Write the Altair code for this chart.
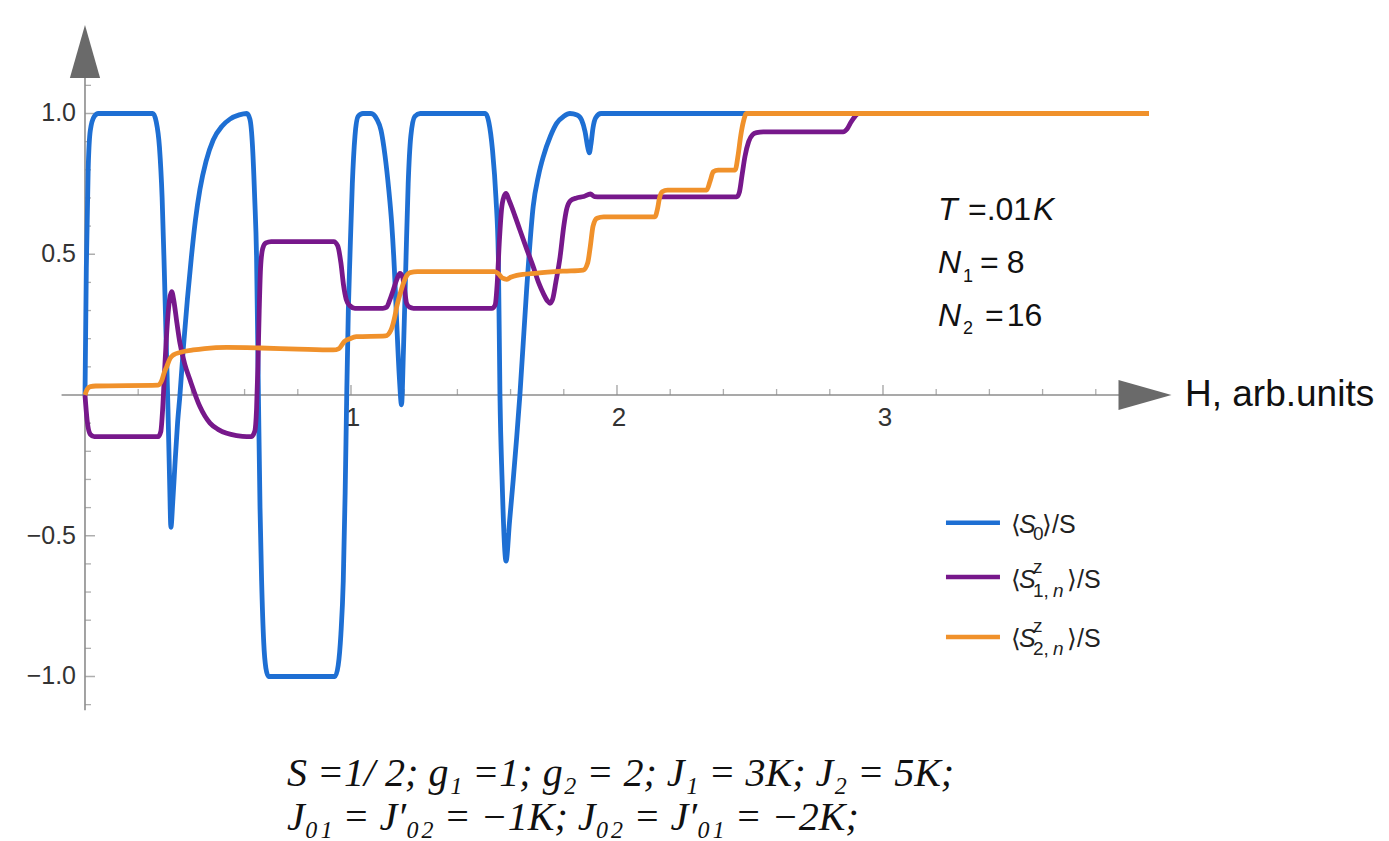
import altair as alt
import pandas as pd

# ---------------- data ----------------
# <S0>/S  (blue)
h_s0 = [0.0, 0.005, 0.012, 0.02, 0.035, 0.05,
        0.255, 0.268, 0.28, 0.29, 0.298, 0.305, 0.312, 0.318, 0.323, 0.33, 0.338, 0.348, 0.357,
        0.37, 0.385, 0.40, 0.415, 0.432, 0.455, 0.482, 0.515, 0.545, 0.58, 0.608,
        0.62, 0.63, 0.638, 0.645, 0.652, 0.658, 0.664, 0.672, 0.68, 0.69,
        0.94, 0.952, 0.962, 0.971, 0.978, 0.984, 0.99, 0.996, 1.005, 1.015, 1.027, 1.045, 1.075,
        1.097, 1.113, 1.128, 1.142, 1.153, 1.163, 1.172, 1.182, 1.19, 1.197, 1.203, 1.207, 1.215,
        1.225, 1.24, 1.26,
        1.505, 1.518, 1.532, 1.545, 1.554, 1.56, 1.568, 1.583, 1.596, 1.61, 1.623, 1.635, 1.66,
        1.685, 1.705, 1.723, 1.75, 1.773, 1.80, 1.823, 1.85, 1.867, 1.88, 1.89, 1.896, 1.902,
        1.91, 1.92, 1.94, 4.0]
v_s0 = [0.0, 0.45, 0.8, 0.94, 0.99, 1.0,
        1.0, 0.97, 0.88, 0.7, 0.45, 0.2, -0.05, -0.3, -0.47, -0.38, -0.25, -0.1, 0.0,
        0.17, 0.34, 0.49, 0.62, 0.73, 0.83, 0.906, 0.955, 0.98, 0.995, 1.0,
        0.98, 0.88, 0.7, 0.49, 0.0, -0.4, -0.66, -0.88, -0.97, -1.0,
        -1.0, -0.96, -0.85, -0.66, -0.35, 0.0, 0.3, 0.49, 0.75, 0.92, 0.99, 1.0, 1.0,
        0.98, 0.94, 0.85, 0.73, 0.61, 0.45, 0.255, 0.06, -0.035, 0.15, 0.35, 0.49, 0.75,
        0.92, 0.99, 1.0,
        1.0, 0.97, 0.87, 0.7, 0.49, 0.0, -0.3, -0.59, -0.45, -0.3, -0.15, 0.0, 0.37,
        0.67, 0.78, 0.847, 0.92, 0.965, 0.99, 1.0, 0.995, 0.977, 0.935, 0.88, 0.86, 0.89,
        0.95, 0.985, 1.0, 1.0]

# <S^z_{1,n}>/S  (purple)
h_s1 = [0.0, 0.008, 0.02, 0.035, 0.275, 0.285, 0.292, 0.30, 0.31, 0.318, 0.326, 0.334,
        0.345, 0.357, 0.375, 0.395, 0.432, 0.47, 0.50, 0.533, 0.57, 0.608, 0.625,
        0.638, 0.645, 0.65, 0.655, 0.66, 0.668, 0.68, 0.70,
        0.935, 0.95, 0.962, 0.972, 0.982, 0.995, 1.015, 1.12, 1.134, 1.145, 1.159, 1.172,
        1.184, 1.194, 1.202, 1.209, 1.22, 1.235, 1.53, 1.542, 1.55, 1.558, 1.566, 1.575,
        1.583, 1.595, 1.615, 1.635, 1.66, 1.685, 1.705, 1.723, 1.738, 1.748, 1.758, 1.77,
        1.786, 1.80, 1.81, 1.825, 1.848, 1.875, 1.90, 1.915, 1.94,
        2.45, 2.46, 2.47, 2.481, 2.495, 2.51, 2.525, 2.55, 2.85, 2.865, 2.88, 2.895, 2.907, 4.0]
v_s1 = [0.0, -0.09, -0.14, -0.148, -0.148, -0.13, -0.05, 0.1, 0.26, 0.34, 0.367, 0.335,
        0.26, 0.184, 0.11, 0.053, -0.041, -0.1, -0.122, -0.136, -0.144, -0.148, -0.148,
        -0.13, -0.05, 0.1, 0.3, 0.45, 0.52, 0.54, 0.545,
        0.545, 0.53, 0.47, 0.39, 0.34, 0.318, 0.308, 0.308, 0.312, 0.335, 0.373, 0.41,
        0.432, 0.42, 0.37, 0.326, 0.312, 0.308, 0.308, 0.32, 0.4, 0.55, 0.66, 0.705,
        0.716, 0.69, 0.64, 0.586, 0.52, 0.456, 0.4, 0.361, 0.335, 0.326, 0.34, 0.4,
        0.49, 0.6, 0.657, 0.69, 0.70, 0.705, 0.714, 0.705, 0.704,
        0.704, 0.72, 0.78, 0.847, 0.90, 0.925, 0.932, 0.935, 0.935, 0.945, 0.97, 0.99, 1.0, 1.0]

# <S^z_{2,n}>/S  (orange)
h_s2 = [0.0, 0.008, 0.02, 0.04, 0.275, 0.288, 0.298, 0.307, 0.32, 0.332, 0.36, 0.407,
        0.45, 0.533, 0.66, 0.80, 0.933, 0.955, 0.975, 0.996, 1.02, 1.13, 1.15, 1.165,
        1.172, 1.185, 1.197, 1.21, 1.222, 1.25, 1.54, 1.555, 1.57, 1.585, 1.60, 1.623,
        1.70, 1.80, 1.873, 1.89, 1.90, 1.91, 1.925, 1.95, 2.143, 2.152, 2.16, 2.17, 2.19,
        2.337, 2.35, 2.362, 2.38, 2.444, 2.455, 2.465, 2.475, 2.487, 4.0]
v_s2 = [0.0, 0.02, 0.03, 0.032, 0.035, 0.05, 0.08, 0.10, 0.13, 0.142, 0.152, 0.16,
        0.165, 0.169, 0.167, 0.163, 0.16, 0.165, 0.19, 0.20, 0.207, 0.21, 0.23, 0.28,
        0.314, 0.36, 0.397, 0.425, 0.435, 0.438, 0.438, 0.43, 0.415, 0.411, 0.418, 0.425,
        0.433, 0.44, 0.444, 0.47, 0.53, 0.60, 0.628, 0.633, 0.633, 0.66, 0.70, 0.722, 0.728,
        0.728, 0.76, 0.793, 0.799, 0.799, 0.85, 0.92, 0.97, 1.0, 1.0]

series_colors = ["#1e6fd3", "#77188b", "#f0912b"]

x_major = [1, 2, 3]
x_major_labels = ["1", "2", "3"]
x_minor = [0.2, 0.4, 0.6, 0.8, 1.2, 1.4, 1.6, 1.8, 2.2, 2.4, 2.6, 2.8, 3.2, 3.4, 3.6, 3.8]
y_major = [-1.0, -0.5, 0.5, 1.0]
y_major_labels = ["\u22121.0", "\u22120.5", "0.5", "1.0"]
y_minor = [-1.1, -0.9, -0.8, -0.7, -0.6, -0.4, -0.3, -0.2, -0.1,
           0.1, 0.2, 0.3, 0.4, 0.6, 0.7, 0.8, 0.9, 1.1]

# ---------------- scales ----------------
XS = alt.Scale(domain=[-0.3195, 4.9023], nice=False, zero=False)
YS = alt.Scale(domain=[-1.5844, 1.4032], nice=False, zero=False)
SANS = "Liberation Sans"
SERIF = "Liberation Serif"
AXC = "#8c8c8c"


def enc(ch):
    return ch.encode(x=alt.X("h:Q", scale=XS, axis=None),
                     y=alt.Y("v:Q", scale=YS, axis=None))


def texts(rows, **kw):
    df = pd.DataFrame(rows, columns=["t", "h", "v"])
    return enc(alt.Chart(df).mark_text(**kw)).encode(text="t:N")


layers = []

# axis lines
layers.append(alt.Chart(pd.DataFrame({"h": [0.0], "v": [-1.12], "v2": [1.15]})).mark_rule(
    color=AXC, strokeWidth=1.6).encode(
    x=alt.X("h:Q", scale=XS, axis=None), y=alt.Y("v:Q", scale=YS, axis=None), y2="v2:Q"))
layers.append(alt.Chart(pd.DataFrame({"h": [-0.088], "h2": [3.93], "v": [0.0]})).mark_rule(
    color=AXC, strokeWidth=1.6).encode(
    x=alt.X("h:Q", scale=XS, axis=None), x2="h2:Q", y=alt.Y("v:Q", scale=YS, axis=None)))

# ticks
layers.append(enc(alt.Chart(pd.DataFrame({"h": x_minor, "v": 0.0})).mark_tick(
    orient="vertical", size=6, thickness=1.3, yOffset=-3, color=AXC)))
layers.append(enc(alt.Chart(pd.DataFrame({"h": x_major, "v": 0.0})).mark_tick(
    orient="vertical", size=10, thickness=1.5, yOffset=-5, color=AXC)))
layers.append(enc(alt.Chart(pd.DataFrame({"h": 0.0, "v": y_minor})).mark_tick(
    orient="horizontal", size=6, thickness=1.3, xOffset=3, color=AXC)))
layers.append(enc(alt.Chart(pd.DataFrame({"h": 0.0, "v": y_major})).mark_tick(
    orient="horizontal", size=10, thickness=1.5, xOffset=5, color=AXC)))

# arrow heads
layers.append(enc(alt.Chart(pd.DataFrame({"h": [0.0], "v": [1.2203]})).mark_point(
    shape="M0,-1L0.57,1L-0.57,1Z", size=2809, filled=True, color="#6a6a6a", opacity=1)))
layers.append(enc(alt.Chart(pd.DataFrame({"h": [3.985], "v": [0.0]})).mark_point(
    shape="M1,0L-1,-0.57L-1,0.57Z", size=2809, filled=True, color="#6a6a6a", opacity=1)))

# tick labels
layers.append(texts([(l, 0.0, v) for l, v in zip(y_major_labels, y_major)],
                    align="right", baseline="middle", dx=-9, font=SANS, fontSize=25, color="#333333"))
layers.append(texts([(l, h, 0.0) for l, h in zip(x_major_labels, x_major)],
                    align="center", baseline="top", dx=2, dy=10, font=SANS, fontSize=26, color="#333333"))

# curves
for hs, vs, c in [(h_s0, v_s0, series_colors[0]), (h_s1, v_s1, series_colors[1]),
                  (h_s2, v_s2, series_colors[2])]:
    layers.append(enc(alt.Chart(pd.DataFrame({"h": hs, "v": vs})).mark_line(
        color=c, strokeWidth=4.8, interpolate="monotone", strokeJoin="round")))

# axis title
layers.append(texts([("H, arb.units", 4.1353, 0.0)], align="left", baseline="middle",
                    font=SANS, fontSize=37, color="#111111"))

# parameter annotations
layers.append(texts([("T", 3.2068, 0.6217), ("K", 3.5639, 0.6217),
                     ("N", 3.2068, 0.4345), ("N", 3.2068, 0.2451)],
                    align="left", baseline="alphabetic", font=SANS, fontStyle="italic",
                    fontSize=32, color="#111111"))
layers.append(texts([("=.01", 3.3195, 0.6217), ("=", 3.3647, 0.4345), ("8", 3.465, 0.4345),
                     ("=", 3.3835, 0.2451), ("16", 3.465, 0.2451)],
                    align="left", baseline="alphabetic", font=SANS, fontSize=32, color="#111111"))
layers.append(texts([("1", 3.3008, 0.4025), ("2", 3.3008, 0.2167)],
                    align="left", baseline="alphabetic", font=SANS, fontSize=18, color="#111111"))

# bottom parameter lines
layers.append(texts([("S =1/ 2;  g\u2081 =1; g\u2082 = 2; J\u2081 = 3K; J\u2082 = 5K;", 0.7594, -1.389),
                     ("J\u2080\u2081 = J\u2032\u2080\u2082 = \u22121K; J\u2080\u2082 = J\u2032\u2080\u2081 = \u22122K;", 0.7594, -1.5453)],
                    align="left", baseline="alphabetic", font=SERIF, fontStyle="italic",
                    fontSize=40, color="#111111"))

# legend swatches
leg = pd.DataFrame({"h": [3.2368] * 3, "h2": [3.4398] * 3, "v": [-0.4536, -0.6465, -0.8597],
                    "k": ["a", "b", "c"]})
layers.append(alt.Chart(leg).mark_rule(strokeWidth=4.5).encode(
    x=alt.X("h:Q", scale=XS, axis=None), x2="h2:Q", y=alt.Y("v:Q", scale=YS, axis=None),
    color=alt.Color("k:N", scale=alt.Scale(domain=["a", "b", "c"], range=series_colors), legend=None)))

# legend labels
layers.append(texts([("\u27e8", 3.4812, -0.4902), ("\u27e9/S", 3.5977, -0.4902),
                     ("\u27e8", 3.4812, -0.6856), ("\u27e9/S", 3.6917, -0.6856),
                     ("\u27e8", 3.4812, -0.8952), ("\u27e9/S", 3.6917, -0.8952)],
                    align="left", baseline="alphabetic", font=SANS, fontSize=25, color="#222222"))
layers.append(texts([("S", 3.5113, -0.4902), ("S", 3.5113, -0.6856), ("S", 3.5113, -0.8952)],
                    align="left", baseline="alphabetic", font=SANS, fontStyle="italic",
                    fontSize=25, color="#222222"))
layers.append(texts([("0", 3.5639, -0.5151), ("z", 3.5639, -0.6323), ("1,", 3.5639, -0.7176),
                     ("z", 3.5639, -0.8419), ("2,", 3.5639, -0.9236)],
                    align="left", baseline="alphabetic", font=SANS, fontSize=19, color="#222222"))
layers.append(texts([("n", 3.6389, -0.7176), ("n", 3.6389, -0.9236)],
                    align="left", baseline="alphabetic", font=SANS, fontStyle="italic",
                    fontSize=19, color="#222222"))

chart = alt.layer(*layers).properties(
    width=1389, height=841, padding=0, background="white",
    autosize=alt.AutoSizeParams(type="none"),
).configure_view(strokeWidth=0)

chart.save("out.html", embed_options={"renderer": "svg", "actions": False})
